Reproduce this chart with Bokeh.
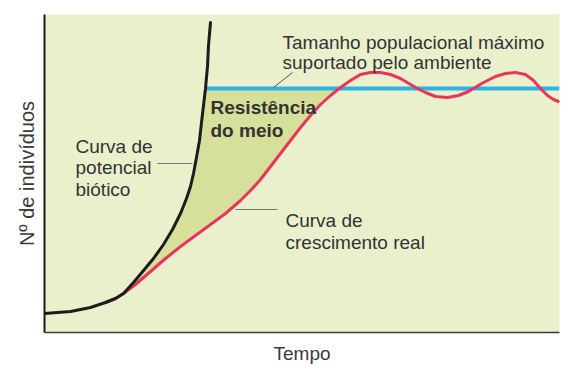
import numpy as np
from bokeh.plotting import figure
from bokeh.models import Range1d, FixedTicker, Label
from bokeh.embed import file_html
from bokeh.resources import INLINE

# ---- data (arbitrary units: time 0..515, individuals 0..318) ----
time_biotic = [0, 26, 46, 61, 71, 79, 89, 99, 109, 119, 128, 136, 142, 146, 149,
               152, 155, 157, 159, 161, 163, 164, 166]
n_biotic = [19, 21, 25, 30, 34, 39, 50, 62, 74, 88, 103, 119, 134, 146, 159,
            175, 192, 210, 227, 244, 266, 287, 310]

time_real = [61, 71, 79, 91, 106, 121, 136, 151, 166, 181, 196, 206, 216, 226, 236, 246,
             256, 266, 276, 286, 296, 306, 316, 326, 336, 346, 356, 366, 373, 381, 391,
             403, 414, 424, 429, 439, 451, 461, 471, 481, 489, 496, 503, 509, 514]
n_real = [30, 34, 39, 48, 61, 74, 86, 97, 108, 119, 132, 142, 153, 166, 179, 192,
          205, 217, 228, 237, 245, 252, 258, 260, 260, 258, 254, 248, 244, 240, 236,
          235, 237, 241, 244, 250, 256, 259, 260, 258, 252, 244, 237, 233, 231]

carrying_capacity = 244
time_end = 515

# ---- figure ----
p = figure(width=580, height=377, output_backend="svg", toolbar_location=None,
           x_range=Range1d(0, 515), y_range=Range1d(0, 318),
           min_border_left=44, min_border_right=21, min_border_top=14, min_border_bottom=45)
p.background_fill_color = "#ebf0cc"
p.border_fill_color = "white"
p.outline_line_color = None
p.grid.visible = False

for ax in (p.xaxis[0], p.yaxis[0]):
    ax.ticker = FixedTicker(ticks=[])
    ax.major_tick_out = 0
    ax.major_tick_in = 0
    ax.minor_tick_out = 0
    ax.minor_tick_in = 0
    ax.major_label_standoff = 0
    ax.major_label_text_font_size = "0px"
    ax.axis_label_text_font = "Liberation Sans"
    ax.axis_label_text_font_style = "normal"
    ax.axis_label_text_color = "#3a3a3a"

p.xaxis.axis_label = "Tempo"
p.xaxis.axis_label_text_font_size = "19px"
p.xaxis.axis_label_standoff = 10
p.xaxis.axis_line_color = "#3a3a3a"
p.xaxis.axis_line_width = 1.5

p.yaxis.axis_label = "Nº de indivíduos"
p.yaxis.axis_label_text_font_size = "20px"
p.yaxis.axis_label_standoff = 7
p.yaxis.axis_line_color = "#1a1a1a"
p.yaxis.axis_line_width = 2

# ---- shaded "environmental resistance" region ----
tb = np.array(time_biotic, float)
nb = np.array(n_biotic, float)
tr = np.array(time_real, float)
nr = np.array(n_real, float)
branch = 79
x_cross_black = float(np.interp(carrying_capacity, nb, tb))
mask_b = (tb >= branch) & (nb < carrying_capacity)
peak_i = int(np.argmax(nr >= carrying_capacity))
x_cross_red = float(np.interp(carrying_capacity, nr[:peak_i + 1], tr[:peak_i + 1]))
mask_r = (tr >= branch) & (tr < x_cross_red)
px = list(tb[mask_b]) + [x_cross_black, x_cross_red] + list(tr[mask_r][::-1])
py = list(nb[mask_b]) + [carrying_capacity, carrying_capacity] + list(nr[mask_r][::-1])
p.patch(px, py, fill_color="#d7e09a", line_color=None)

# ---- carrying capacity line ----
p.line([x_cross_black, time_end], [carrying_capacity, carrying_capacity],
       line_color="#2bb4e4", line_width=4)

# ---- curves ----
p.line(time_real, n_real, line_color="#e8355e", line_width=3, line_join="round", line_cap="round")
p.line(time_biotic, n_biotic, line_color="#1c1c1c", line_width=3, line_join="round", line_cap="round")

# ---- leader lines ----
p.line([229, 248], [245, 260], line_color="#555555", line_width=1)
p.line([113, 148], [169, 169], line_color="#777777", line_width=1.2)
p.line([191, 233], [123, 123], line_color="#777777", line_width=1.2)

# ---- annotations ----
def add_text(x, y, txt, bold=False):
    p.add_layout(Label(x=x, y=y, text=txt, text_font="Liberation Sans",
                       text_font_size="19px", text_color="#333333",
                       text_font_style="bold" if bold else "normal",
                       text_baseline="alphabetic", text_align="left"))

add_text(238, 290, "Tamanho populacional máximo")
add_text(238, 270, "suportado pelo ambiente")
add_text(166, 225, "Resistência", bold=True)
add_text(166, 202, "do meio", bold=True)
add_text(31, 186, "Curva de")
add_text(31, 165, "potencial")
add_text(31, 143, "biótico")
add_text(241, 112, "Curva de")
add_text(241, 90, "crescimento real")

open("out.html", "w").write(file_html(p, INLINE))
